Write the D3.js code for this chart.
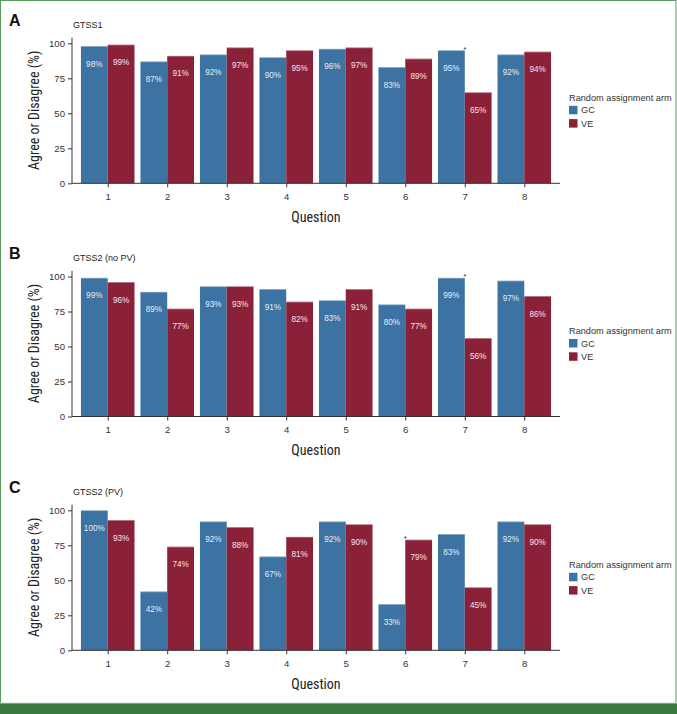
<!DOCTYPE html>
<html>
<head>
<meta charset="utf-8">
<script src="https://cdn.jsdelivr.net/npm/d3@7"></script>
<style>
  html, body { margin: 0; padding: 0; background: #fff; }
  svg { display: block; }
</style>
</head>
<body>
<svg id="chart" width="677" height="714"></svg>
<script>
// ---- data ----
const questions = [1, 2, 3, 4, 5, 6, 7, 8];
const arms = ["GC", "VE"];
const panelLetters = ["A", "B", "C"];
const panelTitles = ["GTSS1", "GTSS2 (no PV)", "GTSS2 (PV)"];
const gtss1GC = [98, 87, 92, 90, 96, 83, 95, 92];
const gtss1VE = [99, 91, 97, 95, 97, 89, 65, 94];
const gtss2noPvGC = [99, 89, 93, 91, 83, 80, 99, 97];
const gtss2noPvVE = [96, 77, 93, 82, 91, 77, 56, 86];
const gtss2PvGC = [100, 42, 92, 67, 92, 33, 83, 92];
const gtss2PvVE = [93, 74, 88, 81, 90, 79, 45, 90];
const starQuestion = [7, 7, 6];
const yTicks = [0, 25, 50, 75, 100];
const legendTitle = "Random assignment arm";
const xTitle = "Question";
const yTitle = "Agree or Disagree (%)";

const panelSeries = [
  [gtss1GC, gtss1VE],
  [gtss2noPvGC, gtss2noPvVE],
  [gtss2PvGC, gtss2PvVE]
];

// ---- style ----
const colors = { GC: "#3c73a2", VE: "#8b2039" };
const green = "#3a7b40";
const svg = d3.select("#chart");
const W = 677, H = 714;

// frame
svg.append("rect").attr("x", 0.5).attr("y", 0.5).attr("width", 675.5).attr("height", 703)
  .attr("fill", "#fff").attr("stroke", "#5a9a60").attr("stroke-width", 1);
svg.append("rect").attr("x", 0).attr("y", 703.5).attr("width", W).attr("height", H - 703.5)
  .attr("fill", green);
svg.append("line").attr("x1", 0).attr("x2", W).attr("y1", 703).attr("y2", 703)
  .attr("stroke", "#c8d0c8").attr("stroke-width", 0.8);

const plotLeft = 72, plotRight = 560;
const x = d3.scaleLinear().domain([0.4, 8.6]).range([plotLeft, plotRight]);
const unit = x(1) - x(0);
const dodge = 0.9;
const barW = unit * dodge / 2;

const baseY0 = [183.3, 416.5, 650.3];
const pxPer100 = 140;

const sans = "Arial, 'Liberation Sans', Helvetica, sans-serif";
const narrow = "'Liberation Sans Narrow', 'Roboto Condensed', 'Arial Narrow', Arial, sans-serif";

panelSeries.forEach((series, p) => {
  const y0 = baseY0[p];
  const yTop = 104;
  const y = d3.scaleLinear().domain([0, yTop]).range([y0, y0 - pxPer100 * yTop / 100]);
  const g = svg.append("g");

  // panel letter and title
  g.append("text").attr("x", 9).attr("y", y0 - 157.5)
    .attr("font-family", sans).attr("font-weight", "bold").attr("font-size", 16)
    .attr("fill", "#111").text(panelLetters[p]);
  g.append("text").attr("x", 73).attr("y", y0 - 155.5)
    .attr("font-family", sans).attr("font-size", 9).attr("fill", "#222")
    .text(panelTitles[p]);

  // bars
  arms.forEach((arm, a) => {
    const vals = series[a];
    const bg = g.append("g");
    bg.selectAll("rect").data(questions).join("rect")
      .attr("x", (q) => x(q) - unit * dodge / 2 + a * barW)
      .attr("y", (q, i) => y(vals[i]))
      .attr("width", barW)
      .attr("height", (q, i) => y(0) - y(vals[i]))
      .attr("fill", colors[arm]);
    // top highlight edge
    bg.selectAll("line").data(questions).join("line")
      .attr("x1", (q) => x(q) - unit * dodge / 2 + a * barW)
      .attr("x2", (q) => x(q) - unit * dodge / 2 + (a + 1) * barW)
      .attr("y1", (q, i) => y(vals[i]) + 0.3)
      .attr("y2", (q, i) => y(vals[i]) + 0.3)
      .attr("stroke", "#ffffff").attr("stroke-opacity", 0.45).attr("stroke-width", 0.8);
    bg.selectAll("text").data(questions).join("text")
      .attr("x", (q) => x(q) - unit * dodge / 2 + (a + 0.5) * barW)
      .attr("y", (q, i) => y(vals[i]) + 20.4)
      .attr("text-anchor", "middle")
      .attr("font-family", sans).attr("font-size", 8.2)
      .attr("fill", arm === "GC" ? "#e6ecf4" : "#f4e4e8")
      .text((q, i) => vals[i] + "%");
  });

  // significance star
  const sq = starQuestion[p];
  const maxV = Math.max(series[0][sq - 1], series[1][sq - 1]);
  g.append("text").attr("x", x(sq)).attr("y", y(maxV) + 1.5)
    .attr("text-anchor", "middle").attr("font-family", sans).attr("font-size", 8)
    .attr("fill", "#333").text("*");

  // y axis
  const yAxis = d3.axisLeft(y).tickValues(yTicks).tickSize(4).tickPadding(3);
  const ya = g.append("g").attr("transform", `translate(${plotLeft},0)`).call(yAxis);
  ya.select(".domain").attr("stroke", "#333").attr("d", `M-0,${y(yTop)}V${y0}`);
  ya.selectAll(".tick line").attr("stroke", "#333");
  ya.selectAll(".tick text").attr("font-family", sans).attr("font-size", 9.6).attr("fill", "#333");

  // x axis
  const xAxis = d3.axisBottom(x).tickValues(questions).tickFormat(d3.format("d")).tickSize(4).tickPadding(6);
  const xa = g.append("g").attr("transform", `translate(0,${y0})`).call(xAxis);
  xa.select(".domain").attr("stroke", "#333").attr("d", `M${plotLeft},0H${plotRight}`);
  xa.selectAll(".tick line").attr("stroke", "#333");
  xa.selectAll(".tick text").attr("font-family", sans).attr("font-size", 9.6).attr("fill", "#333");

  // axis titles
  g.append("text").attr("x", (plotLeft + plotRight) / 2).attr("y", y0 + 38.5)
    .attr("text-anchor", "middle").attr("font-family", narrow).attr("font-size", 14)
    .attr("fill", "#222").text(xTitle);
  g.append("text")
    .attr("transform", `translate(38.5,${y0 - 73}) rotate(-90)`)
    .attr("text-anchor", "middle").attr("font-family", narrow).attr("font-size", 14)
    .attr("fill", "#222").text(yTitle);

  // legend
  const lg = g.append("g").attr("transform", `translate(569,${y0 - 86})`);
  lg.append("text").attr("x", 0).attr("y", 3.3)
    .attr("font-family", sans).attr("font-size", 9.2).attr("fill", "#333").text(legendTitle);
  arms.forEach((arm, a) => {
    lg.append("rect").attr("x", 0).attr("y", 8.5 + a * 13.3).attr("width", 8.5).attr("height", 8.5)
      .attr("fill", colors[arm]);
    lg.append("text").attr("x", 12).attr("y", 16 + a * 13.3)
      .attr("font-family", sans).attr("font-size", 9.2).attr("fill", "#333").text(arm);
  });
});
</script>
</body>
</html>
